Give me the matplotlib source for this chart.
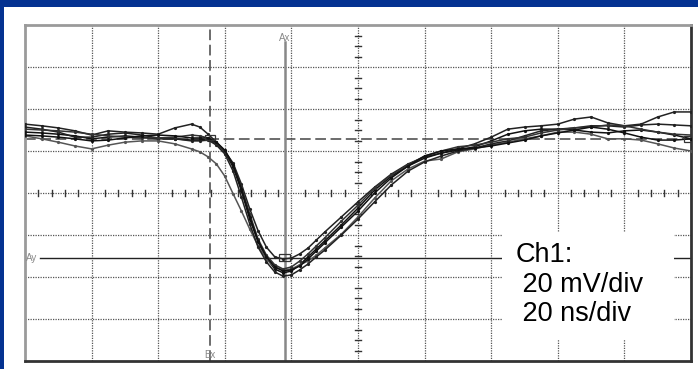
import matplotlib
matplotlib.use("Agg")
from matplotlib import pyplot as plt
from matplotlib.patches import Rectangle

plt.rcParams['font.family'] = ['Liberation Sans', 'DejaVu Sans']

# time axis in divisions (20 ns/div), finer sampling around the pulse
t_div = [0, 0.25, 0.5, 0.75, 1, 1.25, 1.5, 1.75, 2, 2.25, 2.5,
         2.625, 2.75, 2.875, 3, 3.125, 3.25, 3.375, 3.5, 3.625, 3.75, 3.875, 4, 4.125, 4.25, 4.375, 4.5,
         4.75, 5, 5.25, 5.5, 5.75, 6, 6.25, 6.5, 6.75, 7, 7.25, 7.5, 7.75, 8, 8.25, 8.5, 8.75, 9, 9.25, 9.5, 9.75, 10]

# overlaid sweeps, voltage in divisions (20 mV/div)
sweep_a = [1.64, 1.60, 1.55, 1.48, 1.38, 1.48, 1.45, 1.43, 1.40, 1.55, 1.64,
           1.57, 1.40, 1.21, 1.00, 0.71, 0.21, -0.38, -0.90, -1.29, -1.52, -1.57, -1.55, -1.45, -1.31, -1.12, -0.93,
           -0.57, -0.21, 0.14, 0.45, 0.69, 0.86, 0.95, 1.05, 1.17, 1.33, 1.52, 1.57, 1.60, 1.64, 1.76, 1.81, 1.67, 1.60, 1.64, 1.81, 1.93, 1.93]
sweep_b = [1.45, 1.43, 1.40, 1.36, 1.29, 1.33, 1.36, 1.33, 1.29, 1.29, 1.26,
           1.26, 1.29, 1.17, 0.98, 0.62, 0.05, -0.62, -1.17, -1.55, -1.81, -1.90, -1.86, -1.71, -1.52, -1.33, -1.14,
           -0.76, -0.36, 0.07, 0.40, 0.64, 0.83, 0.95, 1.02, 1.10, 1.24, 1.40, 1.48, 1.52, 1.52, 1.50, 1.45, 1.43, 1.48, 1.50, 1.45, 1.38, 1.29]
sweep_c = [1.36, 1.29, 1.21, 1.12, 1.05, 1.14, 1.21, 1.24, 1.24, 1.17, 1.05,
           0.98, 0.86, 0.69, 0.40, -0.02, -0.43, -0.86, -1.26, -1.57, -1.76, -1.83, -1.81, -1.71, -1.62, -1.48, -1.31,
           -0.98, -0.57, -0.12, 0.29, 0.57, 0.76, 0.81, 0.98, 1.05, 1.14, 1.21, 1.29, 1.36, 1.45, 1.45, 1.40, 1.29, 1.29, 1.26, 1.17, 1.07, 1.00]
sweep_d = [1.57, 1.52, 1.45, 1.33, 1.33, 1.40, 1.43, 1.38, 1.31, 1.29, 1.24,
           1.24, 1.26, 1.14, 0.93, 0.52, -0.10, -0.74, -1.29, -1.64, -1.88, -1.98, -1.95, -1.83, -1.69, -1.52, -1.36,
           -1.00, -0.62, -0.21, 0.19, 0.52, 0.74, 0.88, 1.00, 1.07, 1.17, 1.24, 1.36, 1.48, 1.52, 1.55, 1.60, 1.60, 1.57, 1.62, 1.64, 1.62, 1.60]
sweep_e = [1.52, 1.50, 1.48, 1.45, 1.40, 1.36, 1.33, 1.31, 1.31, 1.33, 1.38,
           1.36, 1.31, 1.19, 1.00, 0.67, 0.14, -0.50, -1.10, -1.48, -1.71, -1.81, -1.76, -1.62, -1.45, -1.26, -1.07,
           -0.67, -0.29, 0.12, 0.43, 0.67, 0.88, 1.00, 1.10, 1.14, 1.21, 1.29, 1.33, 1.43, 1.50, 1.55, 1.57, 1.62, 1.60, 1.52, 1.45, 1.40, 1.38]
sweep_f = [1.38, 1.36, 1.33, 1.29, 1.24, 1.26, 1.31, 1.36, 1.38, 1.36, 1.31,
           1.31, 1.31, 1.21, 1.02, 0.67, 0.10, -0.57, -1.14, -1.52, -1.76, -1.86, -1.83, -1.74, -1.57, -1.38, -1.19,
           -0.81, -0.43, 0.00, 0.36, 0.64, 0.88, 1.00, 1.05, 1.07, 1.12, 1.19, 1.26, 1.36, 1.43, 1.50, 1.57, 1.52, 1.43, 1.33, 1.26, 1.26, 1.29]
sweeps = [sweep_a, sweep_b, sweep_c, sweep_d, sweep_e, sweep_f]
sweep_colors = ["#222222", "#111111", "#555555", "#222222", "#333333", "#111111"]

# cursor positions (divisions)
cursor_ax = 3.9
cursor_bx = 2.78
cursor_ay = -1.55
cursor_by = 1.29

info_lines = ["Ch1:", " 20 mV/div", " 20 ns/div"]

W, H = 698, 369
fig = plt.figure(figsize=(W / 100, H / 100), dpi=100, facecolor="#043291")
fig.patches.append(Rectangle((4 / W, 0), 1 - 4 / W, 1 - 7 / H, transform=fig.transFigure,
                             facecolor="white", edgecolor="none", zorder=-10))
ax = fig.add_axes([25 / W, 8 / H, 666 / W, 336 / H])
ax.set_zorder(1)
ax.set_xlim(0, 10)
ax.set_ylim(-4, 4)
ax.set_xticks([])
ax.set_yticks([])
for side, col in [("top", "#9a9a9a"), ("left", "#9a9a9a"), ("bottom", "#333333"), ("right", "#333333")]:
    ax.spines[side].set_color(col)
    ax.spines[side].set_linewidth(2)

# dotted graticule
for gx in range(1, 10):
    ax.axvline(gx, color="#555555", lw=0.9, ls=(0, (1, 1)), zorder=1)
for gy in range(-3, 4):
    ax.axhline(gy, color="#555555", lw=0.9, ls=(0, (1, 1)), zorder=1)

# minor ticks on the centre lines
for i in range(50):
    if i % 5:
        ax.plot([i / 5, i / 5], [-0.07, 0.07], color="#333333", lw=1.0, zorder=1)
for i in range(-16, 17):
    if i % 4:
        ax.plot([4.95, 5.05], [i / 4, i / 4], color="#333333", lw=1.0, zorder=1)

# cursors
ax.axvline(cursor_bx, color="#444444", lw=1.1, ls=(0, (7, 3)), zorder=2)
ax.axhline(cursor_by, color="#444444", lw=1.1, ls=(0, (7, 3)), zorder=2)
ax.plot([cursor_ax, cursor_ax], [-4, 3.6], color="#888888", lw=1.8, zorder=2)
ax.plot([0.22, 10], [cursor_ay, cursor_ay], color="#222222", lw=1.0, zorder=2)
ax.text(cursor_ax, 3.7, "Ax", color="#888888", fontsize=7, ha="center", va="center", zorder=3)
ax.text(cursor_bx, -3.85, "Bx", color="#888888", fontsize=7, ha="center", va="center", zorder=3)
ax.text(0.02, cursor_ay, "Ay", color="#888888", fontsize=7, ha="left", va="center", zorder=3)
ax.text(9.97, cursor_by, "B", color="#888888", fontsize=7, ha="left", va="center", zorder=3, clip_on=True)

for ys, col in zip(sweeps, sweep_colors):
    ax.plot(t_div, ys, color=col, lw=1.1, marker="o", ms=1.3, zorder=4)

# cursor markers
ax.add_patch(Rectangle((cursor_bx - 0.07, cursor_by - 0.02), 0.14, 0.12, fill=False,
                       edgecolor="#333333", lw=0.9, zorder=5))
ax.add_patch(Rectangle((cursor_ax - 0.08, cursor_ay - 0.08), 0.16, 0.18, fill=False,
                       edgecolor="#333333", lw=0.9, zorder=5))
ax.add_patch(Rectangle((9.9, cursor_by - 0.07), 0.1, 0.14, fill=False,
                       edgecolor="#333333", lw=0.9, zorder=5))

# label box
ax.add_patch(Rectangle((7.16, -3.48), 2.58, 2.55, facecolor="white", edgecolor="none", zorder=6))
ax.text(7.36, -1.64, info_lines[0], fontsize=19.5, ha="left", va="baseline", zorder=7)
ax.text(7.36, -2.36, info_lines[1], fontsize=19.5, ha="left", va="baseline", zorder=7)
ax.text(7.36, -3.05, info_lines[2], fontsize=19.5, ha="left", va="baseline", zorder=7)

fig.savefig("out.png", dpi=100, facecolor=fig.get_facecolor())
